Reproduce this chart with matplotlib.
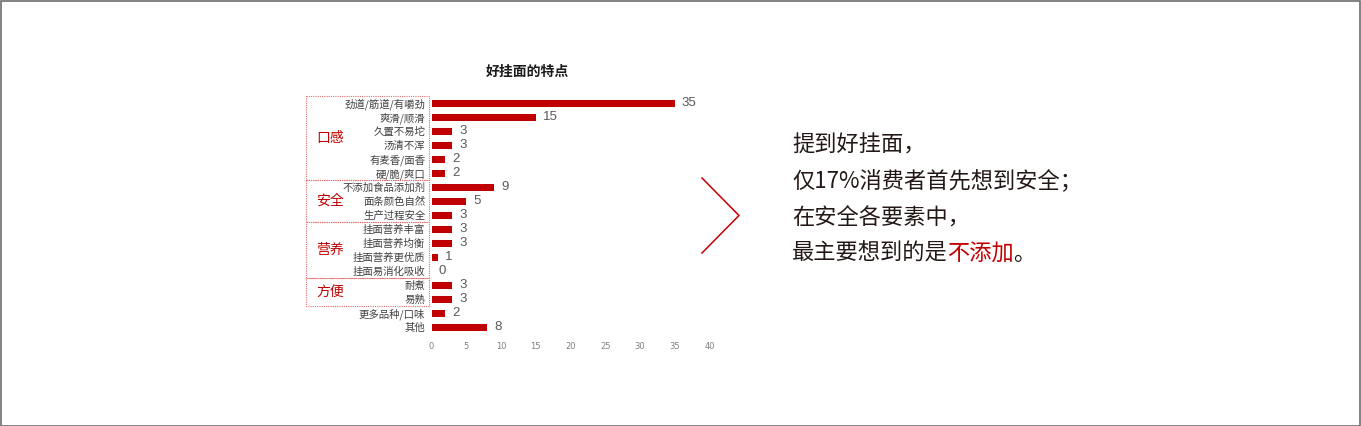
import matplotlib
matplotlib.use("Agg")
import matplotlib.pyplot as plt
from matplotlib.lines import Line2D
from matplotlib.patches import Rectangle
from matplotlib.transforms import blended_transform_factory

plt.rcParams['font.family'] = ['Noto Sans CJK SC', 'DejaVu Sans']

title = "好挂面的特点"
categories = ["劲道/筋道/有嚼劲", "爽滑/顺滑", "久置不易坨", "汤清不浑", "有麦香/面香", "硬/脆/爽口",
              "不添加食品添加剂", "面条颜色自然", "生产过程安全",
              "挂面营养丰富", "挂面营养均衡", "挂面营养更优质", "挂面易消化吸收",
              "耐煮", "易熟", "更多品种/口味", "其他"]
values = [35, 15, 3, 3, 2, 2, 9, 5, 3, 3, 3, 1, 0, 3, 3, 2, 8]
groups = ["口感", "安全", "营养", "方便"]
group_rows = [(0, 5), (6, 8), (9, 12), (13, 14)]
xticks = [0, 5, 10, 15, 20, 25, 30, 35, 40]
message_lines = ["提到好挂面，", "仅17%消费者首先想到安全；", "在安全各要素中，"]
last_line = [("最主要想到的是", "#231815"), ("不添加", "#C00000"), ("。", "#231815")]

W, H = 1361, 426
RED = "#C00000"
fig = plt.figure(figsize=(W / 100, H / 100), dpi=100)
fig.patch.set_facecolor("white")

def fx(px):
    return px / W

def fy(py):
    return 1 - py / H

ax = fig.add_axes([fx(431.5), fy(334), fx(709.5) - fx(431.5), fy(96) - fy(334)])
ypos = list(range(len(categories)))
ax.barh(ypos, values, height=0.5, color=RED)
ax.set_xlim(0, 40)
ax.set_ylim(len(categories) - 0.5, -0.5)
ax.set_yticks(ypos)
ax.set_yticklabels(categories, fontsize=7.5, color="#404040")
ax.set_xticks(xticks)
ax.set_xticklabels([str(t) for t in xticks], fontsize=6, color="#808080", family="DejaVu Sans")
ax.tick_params(axis="y", length=0, pad=4.5)
ax.tick_params(axis="x", length=0, pad=6)
for s in ax.spines.values():
    s.set_visible(False)
for y, v in zip(ypos, values):
    ax.annotate(str(v), xy=(v, y), xytext=(5, 0), textcoords="offset points",
                va="center", ha="left", fontsize=9.5, color="#595959", family="Liberation Sans")

fig.text(fx(527), fy(72), title, fontsize=10, fontweight="bold", color="#1a1a1a",
         ha="center", va="center")

# group boxes
tr = blended_transform_factory(fig.transFigure, ax.transData)
for name, (r0, r1) in zip(groups, group_rows):
    rect = Rectangle((fx(305.5), r0 - 0.5), fx(428.5) - fx(305.5), (r1 - r0 + 1),
                     transform=tr, fill=False, edgecolor="#E07070", linewidth=0.8,
                     linestyle=(0, (1, 1)), clip_on=False)
    fig.add_artist(rect)
    fig.text(fx(330), (r0 + r1) / 2, name, transform=tr, fontsize=10, color=RED,
             ha="center", va="center")

# arrow shape
fig.add_artist(Line2D([fx(702), fx(739), fx(702)], [fy(178), fy(215.5), fy(253)],
                      color=RED, linewidth=1.1, transform=fig.transFigure))

# message text
FS = 16
EM = FS * 100 / 72  # full-width character advance in pixels
X0 = 792
line_y = [145.5, 181.5, 218, 253.5]
for txt, y in zip(message_lines, line_y[:3]):
    fig.text(fx(X0), fy(y), txt, fontsize=FS, color="#231815", ha="left", va="center")
nchars = 0
for i, (seg, col) in enumerate(last_line):
    shift = -1 if i > 0 else 0
    fig.text(fx(X0 + nchars * EM + shift), fy(line_y[3]), seg, fontsize=FS, color=col,
             ha="left", va="center")
    nchars += len(seg)

# figure border
fig.add_artist(Rectangle((0.0004, 0.001), 0.999, 0.997, transform=fig.transFigure,
                         fill=False, edgecolor="#6d6d6d", linewidth=1.2))

fig.savefig("out.png", dpi=100, facecolor="white")
